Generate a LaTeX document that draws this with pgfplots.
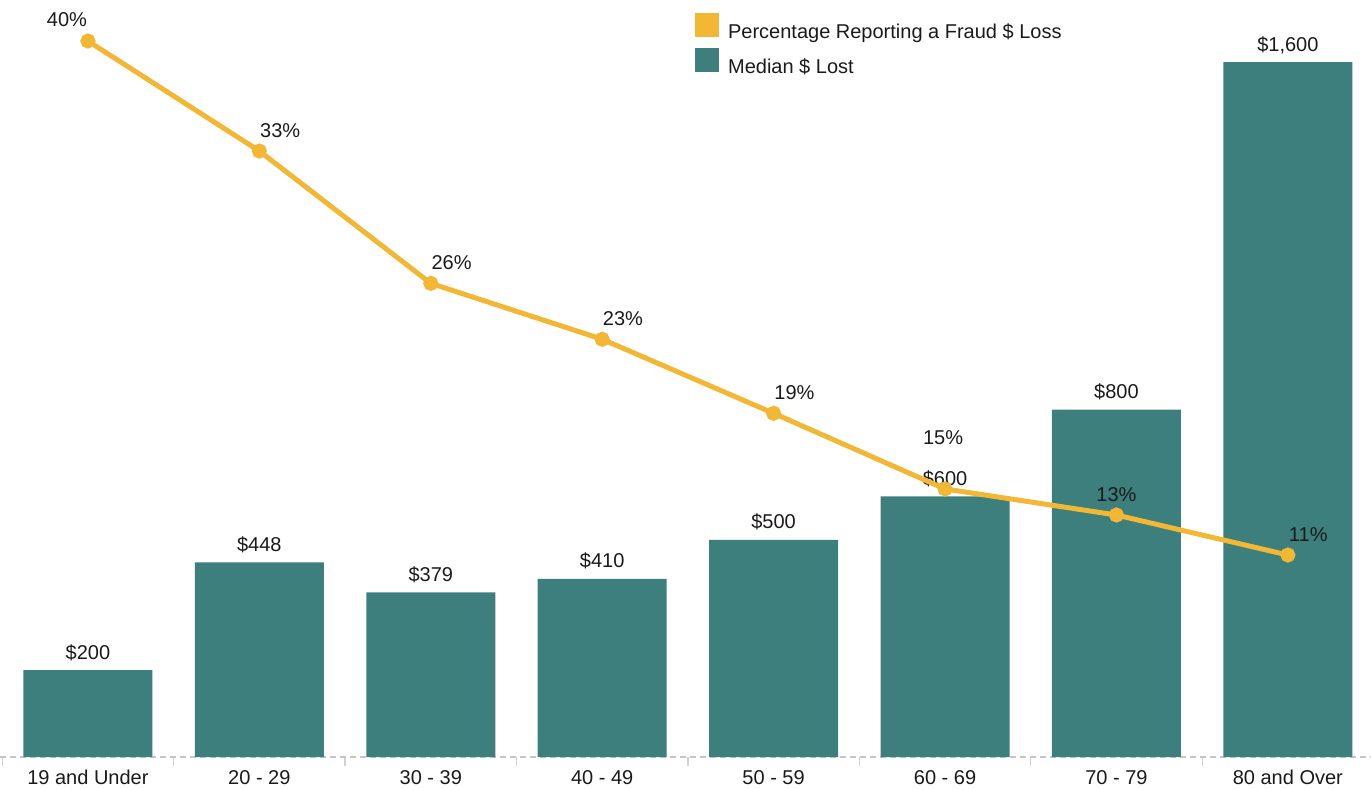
\documentclass[border=0pt]{standalone}
\usepackage{fontspec}
\setmainfont{Liberation Sans}
\usepackage{pgfplots}
\pgfplotsset{compat=1.18}
\definecolor{barteal}{RGB}{61,127,125}
\definecolor{linegold}{RGB}{242,183,52}
\definecolor{labtext}{RGB}{26,26,26}
\pgfplotsset{
  /pgf/number format/assume math mode=true,
  common/.style={
    scale only axis, width=685.5pt, height=368.5pt,
    xmin=-0.513, xmax=7.485, ymin=0,
    clip=false,
  },
}

% ages: 0..7 = 19 and Under .. 80 and Over
\pgfplotstableread{
x  median
0  200
1  448
2  379
3  410
4  500
5  600
6  800
7  1600
}\mediantab

% pct; lab = printed label; dx,dy = label offset (pt)
\pgfplotstableread{
x  pct    lab dx    dy
0  39.56  40  -10.5 10.5
1  33.48  33  10.4  10.4
2  26.17  26  10.4  10.4
3  23.08  23  10.4  10.4
4  18.99  19  10.4  10.4
5  14.81  15  -1.0  25.5
6  13.37  13  0.0   10.3
7  11.16  11  10.2  10.0
}\pcttab

\begin{document}
\begin{tikzpicture}[font=\fontsize{10}{12}\selectfont]
\begin{axis}[
  common,
  ymax=1696.7,
  axis y line=none,
  axis x line*=bottom,
  x axis line style={draw=gray!45, densely dashed, line width=0.6pt},
  xtick={0,...,7},
  xticklabels={19 and Under, 20 - 29, 30 - 39, 40 - 49, 50 - 59, 60 - 69, 70 - 79, 80 and Over},
  major tick length=0pt,
  minor xtick={-0.5,0.5,...,7.5},
  minor tick length=4.5pt,
  tick align=outside,
  minor tick style={gray!35, line width=0.6pt},
  xticklabel style={anchor=base, yshift=-13.5pt, text=labtext, inner sep=0pt},
  ybar, bar width=64.5pt,
]
\addplot[fill=barteal, draw=none,
  point meta=y,
  nodes near coords={\$\pgfmathprintnumber[1000 sep={,}]{\pgfplotspointmeta}},
  nodes near coords style={anchor=base, yshift=5.5pt, inner sep=0pt, text=labtext},
] table[x=x, y=median] {\mediantab};
\coordinate (sw) at (rel axis cs:0,0);
\coordinate (ne) at (rel axis cs:1,1);
\end{axis}

\begin{axis}[
  common,
  ymax=40.72,
  hide axis,
  legend style={at={(0.507,1.0095)}, anchor=north west, draw=none, fill=none,
    inner sep=0pt, outer sep=0pt, row sep=3.5pt,
    nodes={inner sep=0pt, text=labtext, font=\fontsize{10}{12}\selectfont}},
  legend cell align=left,
]
\addplot[linegold, line width=2.5pt, mark=*, mark size=2.5pt,
  mark options={fill=linegold, draw=none},
  legend image code/.code={\fill[linegold, draw=none] (0pt,-2.4pt) rectangle (12pt,9.6pt);},
  point meta=explicit symbolic,
  visualization depends on={\thisrow{dx} \as \dx},
  visualization depends on={\thisrow{dy} \as \dy},
  nodes near coords={\pgfplotspointmeta\%},
  nodes near coords style={anchor=center, xshift=\dx pt, yshift=\dy pt, inner sep=0pt, text=labtext},
] table[x=x, y=pct, meta=lab] {\pcttab};
\addlegendentry{\hspace{4.5pt}Percentage Reporting a Fraud \$ Loss}
\addlegendimage{legend image code/.code={\fill[barteal, draw=none] (0pt,-2.4pt) rectangle (12pt,9.6pt);}}
\addlegendentry{\hspace{4.5pt}Median \$ Lost}
\end{axis}
\pgfresetboundingbox
\path ([yshift=-16pt]sw) rectangle ([yshift=10pt]ne);
\end{tikzpicture}
\end{document}
